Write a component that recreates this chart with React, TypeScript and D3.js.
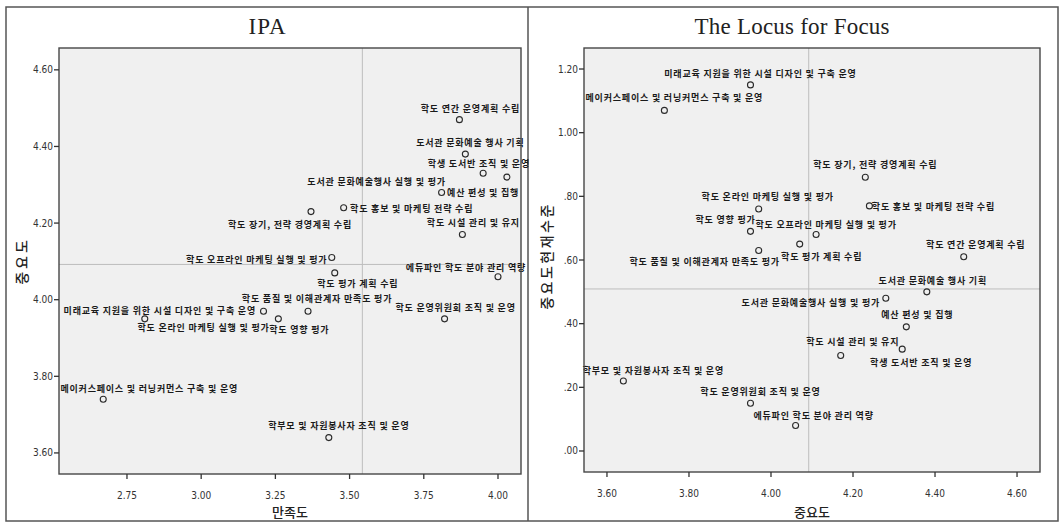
import * as d3 from 'd3';

const items = [
  '미래교육 지원을 위한 시설 디자인 및 구축 운영',
  '메이커스페이스 및 러닝커먼스 구축 및 운영',
  '학도 장기, 전략 경영계획 수립',
  '학도 온라인 마케팅 실행 및 평가',
  '학도 홍보 및 마케팅 전략 수립',
  '학도 영향 평가',
  '학도 오프라인 마케팅 실행 및 평가',
  '학도 품질 및 이해관계자 만족도 평가',
  '학도 평가 계획 수립',
  '학도 연간 운영계획 수립',
  '학부모 및 자원봉사자 조직 및 운영',
  '학도 운영위원회 조직 및 운영',
  '에듀파인 학도 분야 관리 역량',
  '도서관 문화예술 행사 기획',
  '도서관 문화예술행사 실행 및 평가',
  '예산 편성 및 집행',
  '학도 시설 관리 및 유지',
  '학생 도서반 조직 및 운영',
];

const importance = [3.95, 3.74, 4.23, 3.97, 4.24, 3.95, 4.11, 3.97, 4.07, 4.47, 3.64, 3.95, 4.06, 4.38, 4.28, 4.33, 4.17, 4.32];
const satisfaction = [2.81, 2.67, 3.37, 3.21, 3.48, 3.26, 3.44, 3.36, 3.45, 3.87, 3.43, 3.82, 4.0, 3.89, 3.81, 3.95, 3.88, 4.03];
const gap = [1.15, 1.07, 0.86, 0.76, 0.77, 0.69, 0.68, 0.63, 0.65, 0.61, 0.22, 0.15, 0.08, 0.5, 0.48, 0.39, 0.3, 0.32];

const satisfactionTicks = [2.75, 3.0, 3.25, 3.5, 3.75, 4.0];
const importanceTicks = [3.6, 3.8, 4.0, 4.2, 4.4, 4.6];
const gapTicks = [0, 0.2, 0.4, 0.6, 0.8, 1.0, 1.2];

// reference (mean) lines
const satisfactionMean = 3.543;
const importanceMean = 4.092;
const gapMean = 0.509;

// where SPSS put each point label: [dx of label centre, dy of baseline], px
const ipaLabelOffsets: [number, number][] = [
  [15, -5], [46, -7], [-21, 16], [-60, 20], [68, 4], [21, 14], [-75, 5], [9, -9], [23, 14],
  [11, -8], [10, -9], [11, -8], [-32, -6], [5, -8], [-65, -7], [0, 23], [11, -9], [-28, -10],
];
const locusLabelOffsets: [number, number][] = [
  [10, -8], [10, -9], [10, -9], [9, -9], [64, 4], [-25, -8], [10, -7], [-54, 15], [22, 16],
  [12, -9], [30, -7], [10, -8], [18, -7], [6, -8], [-75, 8], [11, -9], [12, -10], [19, 17],
];

const TICK_FONT = "'Liberation Sans Narrow', 'DejaVu Sans Condensed', 'Liberation Sans', Arial, sans-serif";
const KR_FONT = "'Noto Sans CJK KR', 'Noto Sans', sans-serif";

type PanelProps = {
  title: string;
  titleX: number;
  titleWidth: number;
  plot: { x0: number; x1: number; y0: number; y1: number };
  xDomain: [number, number];
  yDomain: [number, number];
  xTicks: number[];
  yTicks: number[];
  xFormat: (v: number) => string;
  yFormat: (v: number) => string;
  xs: number[];
  ys: number[];
  offsets: [number, number][];
  xRef: number;
  yRef: number;
  xTitle: string;
  xTitleX: number;
  yTitle: string;
  yTitleX: number;
  yTitleY: number;
  yTitleSpacing: number;
};

function Panel(p: PanelProps) {
  const { plot } = p;
  const x = d3.scaleLinear().domain(p.xDomain).range([plot.x0, plot.x1]);
  const y = d3.scaleLinear().domain(p.yDomain).range([plot.y1, plot.y0]);

  return (
    <g>
      <text
        x={p.titleX}
        y={34}
        textAnchor="middle"
        fontFamily="'Liberation Serif', 'Times New Roman', serif"
        fontSize={23}
        textLength={p.titleWidth}
        lengthAdjust="spacing"
        fill="#222"
      >
        {p.title}
      </text>

      <rect
        x={plot.x0}
        y={plot.y0}
        width={plot.x1 - plot.x0}
        height={plot.y1 - plot.y0}
        fill="#f0f0f0"
        stroke="none"
      />
      <line x1={x(p.xRef)} x2={x(p.xRef)} y1={plot.y0} y2={plot.y1} stroke="#bdbdbd" strokeWidth={1} />
      <line x1={plot.x0} x2={plot.x1} y1={y(p.yRef)} y2={y(p.yRef)} stroke="#bdbdbd" strokeWidth={1} />

      {p.xs.map((v, i) => (
        <circle key={`c${i}`} cx={x(v)} cy={y(p.ys[i])} r={3} fill="none" stroke="#2a2a2a" strokeWidth={1.1} />
      ))}
      {p.xs.map((v, i) => (
        <text
          key={`l${i}`}
          x={x(v) + p.offsets[i][0]}
          y={y(p.ys[i]) + p.offsets[i][1]}
          textAnchor="middle"
          fontFamily={KR_FONT}
          fontSize={9}
          fontWeight={700}
          letterSpacing={0.8}
          fill="#1a1a1a"
        >
          {items[i]}
        </text>
      ))}

      <rect
        x={plot.x0}
        y={plot.y0}
        width={plot.x1 - plot.x0}
        height={plot.y1 - plot.y0}
        fill="none"
        stroke="#474747"
        strokeWidth={1.4}
      />

      {p.yTicks.map((t) => (
        <g key={`yt${t}`}>
          <line x1={plot.x0 - 5} x2={plot.x0} y1={y(t)} y2={y(t)} stroke="#333" strokeWidth={1.3} />
          <text
            x={plot.x0 - 6}
            y={y(t)}
            dy="0.35em"
            textAnchor="end"
            fontFamily={TICK_FONT}
            fontSize={10}
            fill="#333"
          >
            {p.yFormat(t)}
          </text>
        </g>
      ))}
      {p.xTicks.map((t) => (
        <g key={`xt${t}`}>
          <line x1={x(t)} x2={x(t)} y1={plot.y1} y2={plot.y1 + 5} stroke="#333" strokeWidth={1.3} />
          <text x={x(t)} y={plot.y1 + 25} textAnchor="middle" fontFamily={TICK_FONT} fontSize={10} fill="#333">
            {p.xFormat(t)}
          </text>
        </g>
      ))}

      <text x={p.xTitleX} y={517} textAnchor="middle" fontFamily={KR_FONT} fontSize={13} fontWeight={500} fill="#222">
        {p.xTitle}
      </text>
      <text
        transform={`translate(${p.yTitleX},${p.yTitleY}) rotate(-90)`}
        textAnchor="middle"
        dominantBaseline="central"
        fontFamily={KR_FONT}
        fontSize={14}
        fontWeight={500}
        letterSpacing={p.yTitleSpacing}
        fill="#222"
      >
        {p.yTitle}
      </text>
    </g>
  );
}

const fmt2 = d3.format('.2f');
const fmtNoLead = (v: number) => fmt2(v).replace(/^0/, '');

export default function App() {
  return (
    <svg
      width={1060}
      height={523}
      style={{ position: 'absolute', left: 0, top: 0, background: '#fff' }}
    >
      <rect x={6} y={7} width={1052} height={514} fill="#fff" stroke="#555" strokeWidth={1.5} />
      <line x1={528} x2={528} y1={7} y2={521} stroke="#555" strokeWidth={1.5} />

      <Panel
        title="IPA"
        titleX={267}
        titleWidth={37}
        plot={{ x0: 59, x1: 521, y0: 48, y1: 474 }}
        xDomain={[2.521, 4.0775]}
        yDomain={[3.545, 4.657]}
        xTicks={satisfactionTicks}
        yTicks={importanceTicks}
        xFormat={fmt2}
        yFormat={fmt2}
        xs={satisfaction}
        ys={importance}
        offsets={ipaLabelOffsets}
        xRef={satisfactionMean}
        yRef={importanceMean}
        xTitle="만족도"
        xTitleX={290}
        yTitle="중요도"
        yTitleX={21}
        yTitleY={261}
        yTitleSpacing={3}
      />
      <Panel
        title="The Locus for Focus"
        titleX={792}
        titleWidth={195}
        plot={{ x0: 584, x1: 1040, y0: 48, y1: 472 }}
        xDomain={[3.544, 4.656]}
        yDomain={[-0.066, 1.266]}
        xTicks={importanceTicks}
        yTicks={gapTicks}
        xFormat={fmt2}
        yFormat={fmtNoLead}
        xs={importance}
        ys={gap}
        offsets={locusLabelOffsets}
        xRef={importanceMean}
        yRef={gapMean}
        xTitle="중요도"
        xTitleX={812}
        yTitle="중요도현재수준"
        yTitleX={546}
        yTitleY={256}
        yTitleSpacing={2.5}
      />
    </svg>
  );
}
